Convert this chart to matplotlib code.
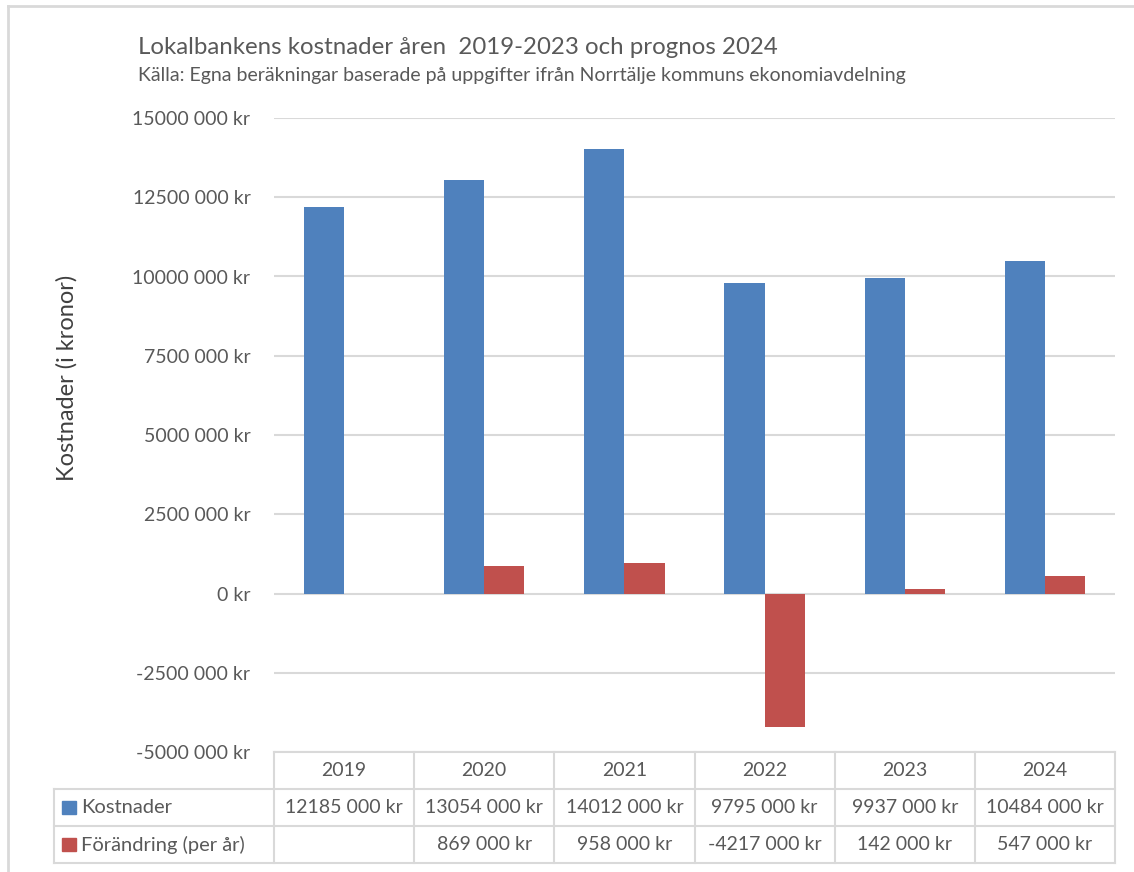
import numpy as np
import matplotlib.pyplot as plt
from matplotlib.transforms import blended_transform_factory
from matplotlib.patches import Rectangle
from matplotlib.lines import Line2D

years = ["2019", "2020", "2021", "2022", "2023", "2024"]
kostnader = [12185000, 13054000, 14012000, 9795000, 9937000, 10484000]
forandring = [np.nan, 869000, 958000, -4217000, 142000, 547000]
series_names = ["Kostnader", "Förändring (per år)"]
series_colors = ["#4F81BD", "#C0504D"]
yticks = [-5000000, -2500000, 0, 2500000, 5000000, 7500000,
          10000000, 12500000, 15000000]

title = "Lokalbankens kostnader åren  2019-2023 och prognos 2024"
subtitle = "Källa: Egna beräkningar baserade på uppgifter ifrån Norrtälje kommuns ekonomiavdelning"
ylabel = "Kostnader (i kronor)"

TXT = "#595959"
GRID = "#D9D9D9"


def kr(v):
    # Excel-ish format: "12185 000 kr", "0 kr"
    if np.isnan(v):
        return ""
    v = int(v)
    if v == 0:
        return "0 kr"
    sign = "-" if v < 0 else ""
    v = abs(v)
    return f"{sign}{v // 1000} {v % 1000:03d} kr"


plt.rcParams["font.family"] = ["Lato", "DejaVu Sans"]

W, H = 1134, 872
fig = plt.figure(figsize=(W / 100, H / 100), dpi=100)

# plot area in pixels (from the reference)
left, right, top, bottom = 274, 1115, 118, 752
ax = fig.add_axes([left / W, 1 - bottom / H, (right - left) / W, (bottom - top) / H])

x = np.arange(len(years))
bw = 0.286
ax.bar(x - bw / 2, kostnader, bw, color=series_colors[0], zorder=3)
ax.bar(x + bw / 2, forandring, bw, color=series_colors[1], zorder=3)

ax.set_xlim(-0.5, len(years) - 0.5)
ax.set_ylim(yticks[0], yticks[-1])
ax.set_yticks(yticks)
ax.set_yticklabels([kr(t) for t in yticks])
ax.tick_params(axis="y", length=0, pad=17, labelsize=14, labelcolor=TXT)
ax.set_xticks([])
ax.grid(axis="y", color=GRID, linewidth=1.5, zorder=0)
for s in ax.spines.values():
    s.set_visible(False)

ax.set_ylabel(ylabel, fontsize=17, color="#404040")
ax.yaxis.set_label_coords((78 - left) / (right - left), (bottom - 378) / (bottom - top))

# data table below the plot
tr = blended_transform_factory(ax.transData, ax.transAxes)
px_x = (right - left) / len(years)   # pixels per category
px_y = bottom - top                  # pixels per axes height
row_h = 37 / px_y
lab_left = -0.5 - (left - 54) / px_x
n = len(years)
tk = dict(transform=tr, clip_on=False, color=GRID, linewidth=1.5)

# horizontal lines
ax.add_line(Line2D([-0.5, n - 0.5], [0, 0], **tk))
for r in range(1, 4):
    ax.add_line(Line2D([lab_left, n - 0.5], [-r * row_h, -r * row_h], **tk))
# vertical lines
for i in range(n + 1):
    ax.add_line(Line2D([i - 0.5, i - 0.5], [0, -3 * row_h], **tk))
ax.add_line(Line2D([lab_left, lab_left], [-row_h, -3 * row_h], **tk))

for i, yr in enumerate(years):
    ax.text(i, -0.5 * row_h, yr, transform=tr, ha="center", va="center",
            fontsize=14, color=TXT)
for r, (name, vals, col) in enumerate(zip(series_names, [kostnader, forandring], series_colors)):
    yc = -(1.5 + r) * row_h
    ax.add_patch(Rectangle((lab_left + 8 / px_x, yc - 6.5 / px_y), 14 / px_x, 13 / px_y,
                           transform=tr, clip_on=False, color=col))
    ax.text(lab_left + 27 / px_x, yc, name, transform=tr, ha="left", va="center",
            fontsize=14.5, color=TXT)
    for i, v in enumerate(vals):
        ax.text(i, yc, kr(v), transform=tr, ha="center", va="center",
                fontsize=14, color=TXT)

# titles
fig.text(138 / W, 1 - 47 / H, title, fontsize=17.3, color=TXT, va="center")
fig.text(138 / W, 1 - 75 / H, subtitle, fontsize=14, color=TXT, va="center")

# chart frame (top and left edges visible in the screenshot)
fig.add_artist(Line2D([8 / W, 1], [1 - 6 / H, 1 - 6 / H], transform=fig.transFigure,
                      color=GRID, linewidth=2))
fig.add_artist(Line2D([8 / W, 8 / W], [0, 1 - 6 / H], transform=fig.transFigure,
                      color=GRID, linewidth=2))

fig.savefig("out.png", dpi=100)
